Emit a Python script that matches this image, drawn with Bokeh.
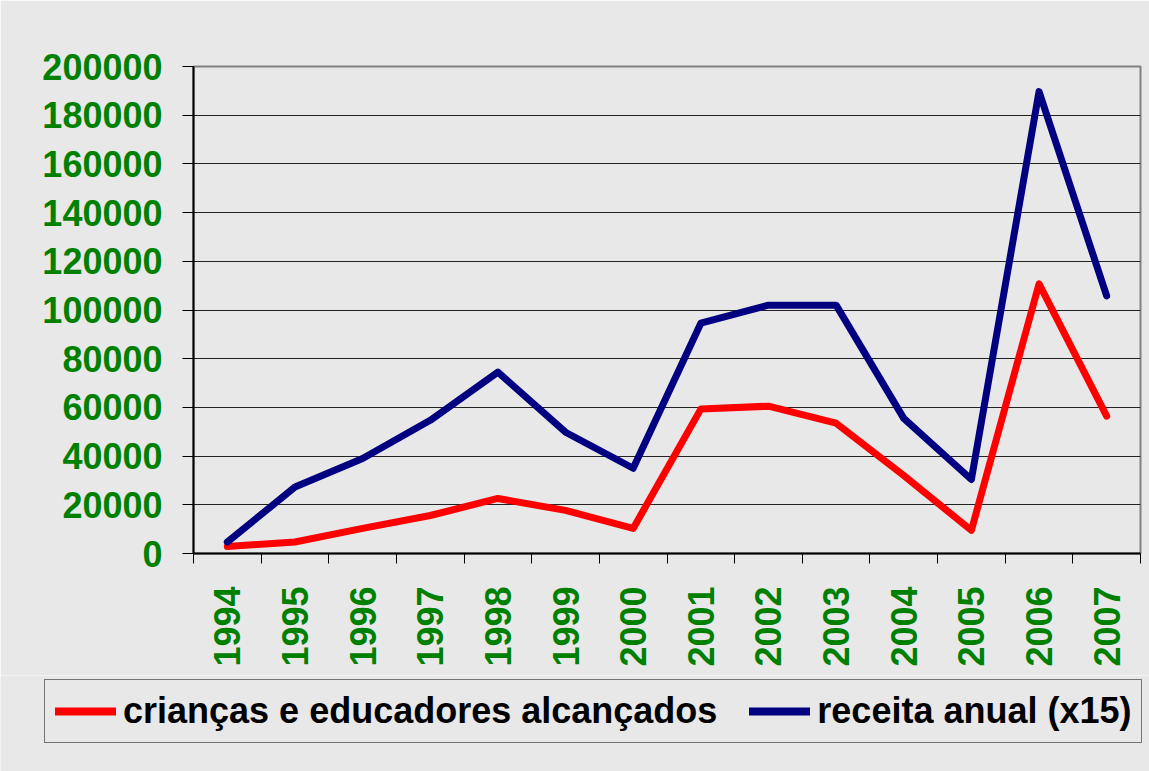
from bokeh.plotting import figure
from bokeh.layouts import column
from bokeh.models import Range1d, FixedTicker, Legend, LegendItem, PrintfTickFormatter
from bokeh.embed import file_html
from bokeh.resources import INLINE
from math import pi

years = [1994, 1995, 1996, 1997, 1998, 1999, 2000, 2001, 2002, 2003, 2004, 2005, 2006, 2007]
criancas = [2900, 4700, 10300, 15600, 22600, 17700, 10300, 59300, 60500, 53500, 32000, 9500, 110700, 56400]
receita = [4700, 27300, 39000, 54700, 74500, 49800, 35000, 94600, 102000, 102000, 55500, 30400, 189700, 105800]
y_ticks = [0, 20000, 40000, 60000, 80000, 100000, 120000, 140000, 160000, 180000, 200000]
series_names = ["crianças e educadores alcançados", "receita anual (x15)"]
series_colors = ["#ff0000", "#000080"]

BG = "#e8e8e8"
GREEN = "#008000"
FONT = "Liberation Sans"
W = 1149
H1 = 675
H2 = 96

p = figure(width=W, height=H1, output_backend="svg", toolbar_location=None,
           x_range=Range1d(years[0] - 0.5, years[-1] + 0.5),
           y_range=Range1d(0, 200000),
           min_border_left=193, min_border_right=9, min_border_top=66, min_border_bottom=H1 - 553)
p.frame_align = False

p.background_fill_color = BG
p.border_fill_color = BG
p.outline_line_color = "#808080"
p.outline_line_width = 2

# grid
p.xgrid.grid_line_color = None
p.ygrid.grid_line_color = "#222222"
p.ygrid.grid_line_width = 1
p.ygrid.ticker = FixedTicker(ticks=y_ticks)

# y axis
p.yaxis.ticker = FixedTicker(ticks=y_ticks)
p.yaxis.formatter = PrintfTickFormatter(format="%d")
p.yaxis.axis_line_color = "black"
p.yaxis.axis_line_width = 2
p.yaxis.major_tick_line_color = "black"
p.yaxis.major_tick_line_width = 1
p.yaxis.major_tick_out = 11
p.yaxis.major_tick_in = 0
p.yaxis.minor_tick_line_color = None
p.yaxis.major_label_standoff = 20
p.yaxis.major_label_text_font = FONT
p.yaxis.major_label_text_font_style = "bold"
p.yaxis.major_label_text_font_size = "36px"
p.yaxis.major_label_text_color = GREEN

# x axis
boundaries = [y - 0.5 for y in years] + [years[-1] + 0.5]
p.xaxis.ticker = FixedTicker(ticks=years, minor_ticks=boundaries)
p.xaxis.axis_line_color = "black"
p.xaxis.axis_line_width = 2
p.xaxis.major_tick_line_color = None
p.xaxis.major_tick_out = 0
p.xaxis.major_tick_in = 0
p.xaxis.minor_tick_line_color = "black"
p.xaxis.minor_tick_line_width = 1
p.xaxis.minor_tick_out = 10
p.xaxis.minor_tick_in = 0
p.xaxis.major_label_orientation = pi / 2
p.xaxis.major_label_standoff = 23
p.xaxis.major_label_text_font = FONT
p.xaxis.major_label_text_font_style = "bold"
p.xaxis.major_label_text_font_size = "36px"
p.xaxis.major_label_text_color = GREEN

p.line(years, criancas, line_color=series_colors[0], line_width=7,
       line_join="round", line_cap="round")
p.line(years, receita, line_color=series_colors[1], line_width=7,
       line_join="round", line_cap="round")

# legend strip below the chart
q = figure(width=W, height=H2, output_backend="svg", toolbar_location=None,
           x_range=Range1d(0, 1), y_range=Range1d(0, 1),
           min_border_left=0, min_border_right=0, min_border_top=0, min_border_bottom=0)
q.frame_align = False
q.axis.visible = False
q.grid.grid_line_color = None
q.outline_line_color = None
q.background_fill_color = BG
q.border_fill_color = BG
# legend key lines only (drawn outside the visible range)
l1 = q.line([-5, -4], [-5, -4], line_color=series_colors[0], line_width=8, line_cap="round")
l2 = q.line([-5, -4], [-5, -4], line_color=series_colors[1], line_width=8, line_cap="round")

legend = Legend(items=[LegendItem(label=series_names[0], renderers=[l1]),
                       LegendItem(label=series_names[1], renderers=[l2])],
                orientation="horizontal", location=(44, H2 - (743 - H1)),
                label_text_font=FONT, label_text_font_style="bold",
                label_text_font_size="36px", label_text_color="black",
                glyph_width=61, glyph_height=36, label_standoff=7, spacing=32,
                padding=10, margin=0,
                border_line_color="black", border_line_width=1,
                background_fill_alpha=0)
q.add_layout(legend, "center")

layout = column(p, q, spacing=0)
open("out.html", "w").write(file_html(layout, INLINE))
